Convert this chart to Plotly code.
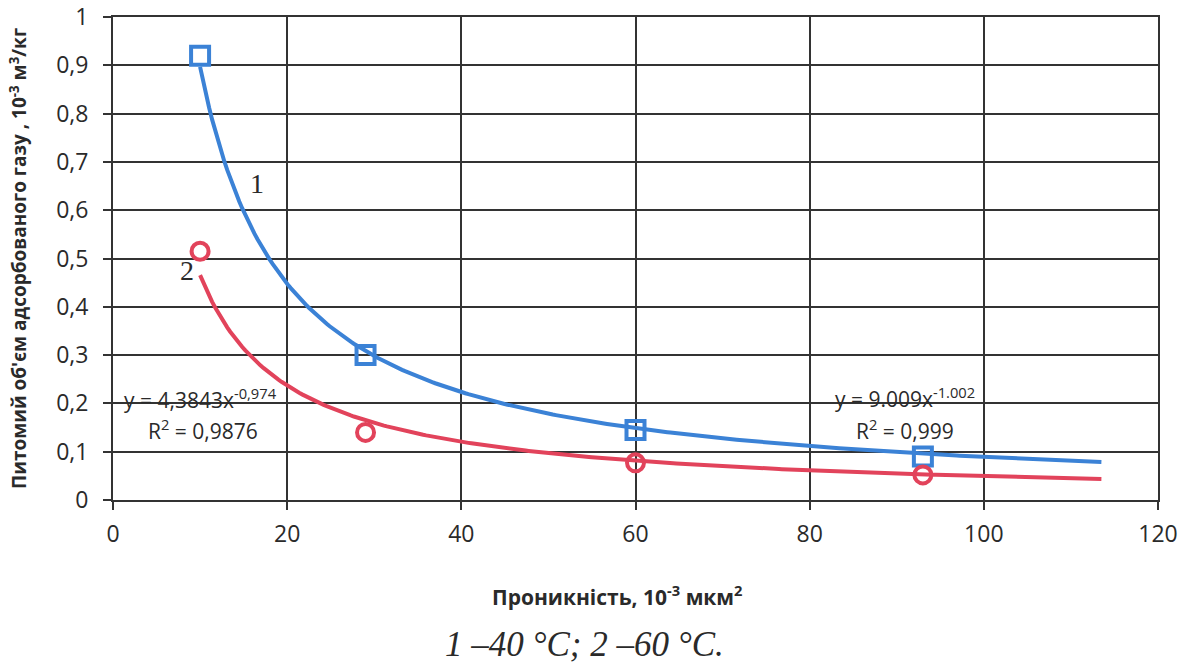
import numpy as np
import plotly.graph_objects as go

# Data
permeability_1 = [10, 29, 60, 93]          # 10^-3 mkm^2, curve 1 (40 °C)
volume_1 = [0.92, 0.30, 0.145, 0.09]        # 10^-3 m^3/kg
permeability_2 = [10, 29, 60, 93]          # curve 2 (60 °C)
volume_2 = [0.515, 0.14, 0.077, 0.052]

# Power trendlines as printed on the chart
trend_1 = {"a": 9.009, "b": -1.002, "x0": 10, "x1": 113.5}
trend_2 = {"a": 4.3843, "b": -0.974, "x0": 10, "x1": 113.5}

x_ticks = [0, 20, 40, 60, 80, 100, 120]
y_ticks = [0, 0.1, 0.2, 0.3, 0.4, 0.5, 0.6, 0.7, 0.8, 0.9, 1.0]
y_tick_text = ["0", "0,1", "0,2", "0,3", "0,4", "0,5", "0,6", "0,7", "0,8", "0,9", "1"]

BLUE = "#3b82d6"
RED = "#e2435b"
GRID = "#333333"
TXT = "#2a2a2a"

fig = go.Figure()

for tr, col in ((trend_1, BLUE), (trend_2, RED)):
    xs = np.linspace(tr["x0"], tr["x1"], 300)
    fig.add_trace(go.Scatter(x=xs, y=tr["a"] * xs ** tr["b"], mode="lines",
                             line=dict(color=col, width=4), showlegend=False,
                             hoverinfo="skip"))

fig.add_trace(go.Scatter(x=permeability_1, y=volume_1, mode="markers",
                         marker=dict(symbol="square-open", size=18, color=BLUE,
                                     line=dict(width=4, color=BLUE)),
                         showlegend=False))
fig.add_trace(go.Scatter(x=permeability_2, y=volume_2, mode="markers",
                         marker=dict(symbol="circle-open", size=17, color=RED,
                                     line=dict(width=4, color=RED)),
                         showlegend=False))

tick_font = dict(family="Open Sans", size=23, color=TXT)

fig.update_layout(
    width=1187, height=666,
    margin=dict(l=113, r=29, t=17, b=166, autoexpand=False),
    paper_bgcolor="white", plot_bgcolor="white",
    font=dict(family="Open Sans", color=TXT),
    xaxis=dict(range=[0, 120], tickvals=x_ticks, ticktext=[str(v) for v in x_ticks],
               showgrid=True, gridcolor=GRID, gridwidth=2,
               showline=True, linecolor=GRID, linewidth=2, mirror=True,
               ticks="outside", ticklen=8, tickcolor=GRID, tickwidth=2,
               ticklabelstandoff=4, automargin=False,
               tickfont=tick_font, zeroline=False),
    yaxis=dict(range=[0, 1], tickvals=y_ticks, ticktext=y_tick_text,
               showgrid=True, gridcolor=GRID, gridwidth=2,
               showline=True, linecolor=GRID, linewidth=2, mirror=True,
               ticks="outside", ticklen=8, tickcolor=GRID, tickwidth=2,
               ticklabelstandoff=10, automargin=False,
               tickfont=tick_font, zeroline=False,
               title=dict(text="<b>Питомий об'єм адсорбованого газу , 10<sup>-3</sup> м<sup>3</sup>/кг</b>",
                          font=dict(family="Open Sans", size=19, color=TXT),
                          standoff=24)),
)

eq_font = dict(family="Open Sans", size=21, color=TXT)
annotations = [
    dict(x=10.1, y=0.21, text="y = 4,3843x<sup>-0,974</sup>", font=eq_font),
    dict(x=10.3, y=0.145, text="R<sup>2</sup> = 0,9876", font=eq_font),
    dict(x=91, y=0.213, text="y = 9.009x<sup>-1.002</sup>", font=eq_font),
    dict(x=91, y=0.145, text="R<sup>2</sup> = 0,999", font=eq_font),
    dict(x=16.5, y=0.655, text="1", font=dict(family="Liberation Serif", size=28, color=TXT)),
    dict(x=8.5, y=0.475, text="2", font=dict(family="Liberation Serif", size=28, color=TXT)),
]
for a in annotations:
    fig.add_annotation(xref="x", yref="y", showarrow=False, **a)

fig.add_annotation(xref="paper", yref="paper", x=0.483, y=-0.197, yanchor="middle",
                   text="<b>Проникність, 10<sup>-3</sup> мкм<sup>2</sup></b>", showarrow=False,
                   font=dict(family="Open Sans", size=21, color=TXT))
fig.add_annotation(xref="paper", yref="paper", x=0.451, y=-0.300, yanchor="middle",
                   text="<i>1 –40 °C; 2 –60 °C.</i>", showarrow=False,
                   font=dict(family="Liberation Serif", size=35, color=TXT))

fig.write_html("out.html")
